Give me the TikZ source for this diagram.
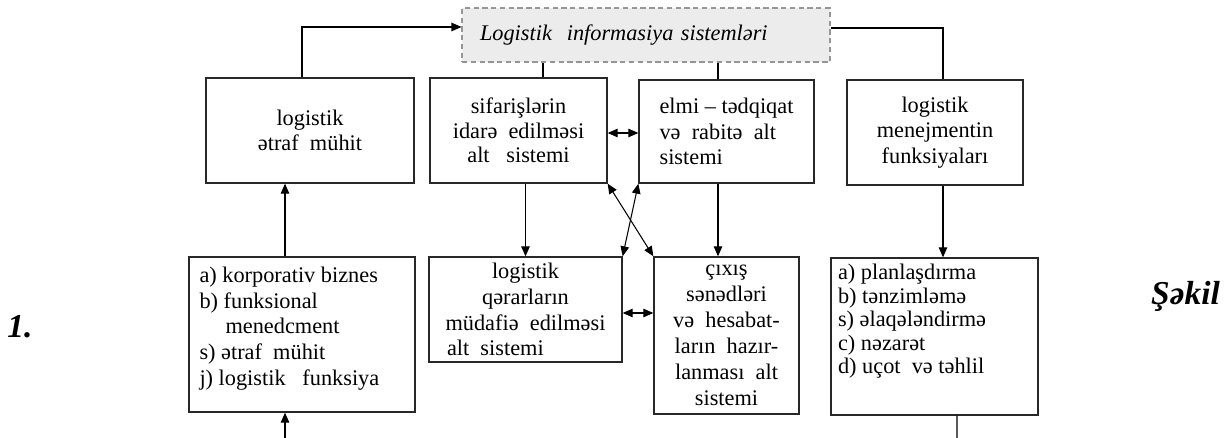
\documentclass[tikz,border=0pt]{standalone}
\usepackage{fontspec}
\setmainfont{Liberation Serif}
\usetikzlibrary{arrows.meta}
\definecolor{panelgray}{RGB}{236,236,236}
\definecolor{edgegray}{RGB}{150,150,150}
\definecolor{linegray}{RGB}{40,40,40}
\tikzset{
  sysbox/.style={rectangle, draw=linegray, line width=0.75pt, align=center, inner sep=1pt, font=\fontsize{12.7}{14.6}\selectfont},
  listbox/.style={rectangle, draw=linegray, line width=0.75pt, inner sep=0pt, font=\fontsize{12.7}{14.6}\selectfont},
  titlebox/.style={rectangle, draw=edgegray, densely dashed, fill=panelgray, align=left, font=\fontsize{12.7}{14.6}\selectfont\itshape},
  figlabel/.style={font=\fontsize{19}{22}\selectfont\bfseries\itshape}
}

\begin{document}
\begin{tikzpicture}[>={Triangle[length=2mm,width=1.7mm]}, line width=0.6pt]
\useasboundingbox (0,0) rectangle (24.54,8.76);

% Top
\node[titlebox, minimum width=7.36cm, minimum height=1.08cm, text width=6.64cm, inner xsep=0.36cm] (lis) at (12.92,8.06) {Logistik\ \ informasiya sistemləri};

% Upper row
\node[sysbox, minimum width=4.16cm, minimum height=2.10cm] (env) at (6.20,6.15) {logistik\\ ətraf\ \ mühit};
\node[sysbox, minimum width=3.54cm, minimum height=2.10cm, font=\fontsize{12.7}{13.9}\selectfont] (orders) at (10.37,6.15) {sifarişlərin\\ idarə\ \ edilməsi\\ alt\ \ \ sistemi};
\node[sysbox, minimum width=3.50cm, minimum height=2.06cm, align=left] (research) at (14.53,6.13) {elmi – tədqiqat\\ və\ \ rabitə\ \ alt\\ sistemi};
\node[sysbox, minimum width=3.52cm, minimum height=2.10cm] (mgmt) at (18.70,6.11) {logistik\\ menejmentin\\ funksiyaları};

% Lower row
\node[listbox, minimum width=4.52cm, minimum height=3.10cm] (factors) at (6.04,2.07) {\parbox[c][2.7cm][t]{4.1cm}{a) korporativ biznes\\ b) funksional\\ \hspace*{0.52cm}menedcment\\ s) ətraf\ \ mühit\\ j) logistik\ \ \ funksiya}};
\node[sysbox, minimum width=3.86cm, minimum height=2.10cm, inner sep=0pt, font=\fontsize{12.7}{14.7}\selectfont] (defence) at (10.51,2.57) {logistik\\ qərarların\\ müdafiə\ \ edilməsi\\ \makebox[3.14cm][l]{alt\ \ sistemi}};
\node[sysbox, minimum width=2.90cm, minimum height=3.14cm, inner sep=0pt, font=\fontsize{12.7}{14.8}\selectfont] (output) at (14.53,2.05) {çıxış\\ sənədləri\\ və\ \ hesabat-\\ ların\ \ hazır-\\ lanması\ \ alt\\ sistemi};
\node[listbox, minimum width=4.14cm, minimum height=3.14cm, font=\fontsize{12.7}{13.4}\selectfont] (functions) at (18.69,2.03) {\parbox[c][2.9cm][t]{3.86cm}{a) planlaşdırma\\ b) tənzimləmə\\ s) əlaqələndirmə\\ c) nəzarət\\ d) uçot\ \ və təhlil}};

% Side labels
\node[figlabel] (fignum) at (0.40,2.22) {1.};
\node[figlabel] (figword) at (23.71,2.84) {Şəkil};

% Free ends at the bottom edge
\coordinate (inflow) at (5.70,0);
\coordinate (outflow) at (19.14,0);

% Links to the top box
\draw[->] ([xshift=-0.16cm]env.north) |- ([yshift=0.16cm]lis.west);
\draw ([xshift=0.49cm]orders.north) -- ([xshift=0.49cm]orders.north |- lis.south);
\draw ([xshift=-0.17cm]research.north) -- ([xshift=-0.17cm]research.north |- lis.south);
\draw ([yshift=0.14cm]lis.east) -| ([xshift=0.16cm]mgmt.north);

% Arrows
\draw[<->] ([yshift=-0.05cm]orders.east) -- ([yshift=-0.05cm]orders.east -| research.west);
\draw[->] (defence.north |- orders.south) -- (defence.north);
\draw[->] ([xshift=-0.17cm]research.south) -- ([xshift=-0.17cm]output.north);
\draw[->] ([xshift=0.16cm]mgmt.south) -- ([xshift=0.16cm]mgmt.south |- functions.north);
\draw[<->] (orders.south east) -- (output.north west);
\draw[<->] (research.south west) -- (defence.north east);
\draw[<->] ([yshift=-0.07cm]defence.east) -- ([yshift=-0.07cm]defence.east -| output.west);
\draw[->] ([xshift=-0.34cm]factors.north) -- ([xshift=-0.34cm]factors.north |- env.south);
\draw[->] (inflow) -- (inflow |- factors.south);
\draw ([xshift=0.45cm]functions.south) -- (outflow);
\end{tikzpicture}
\end{document}
